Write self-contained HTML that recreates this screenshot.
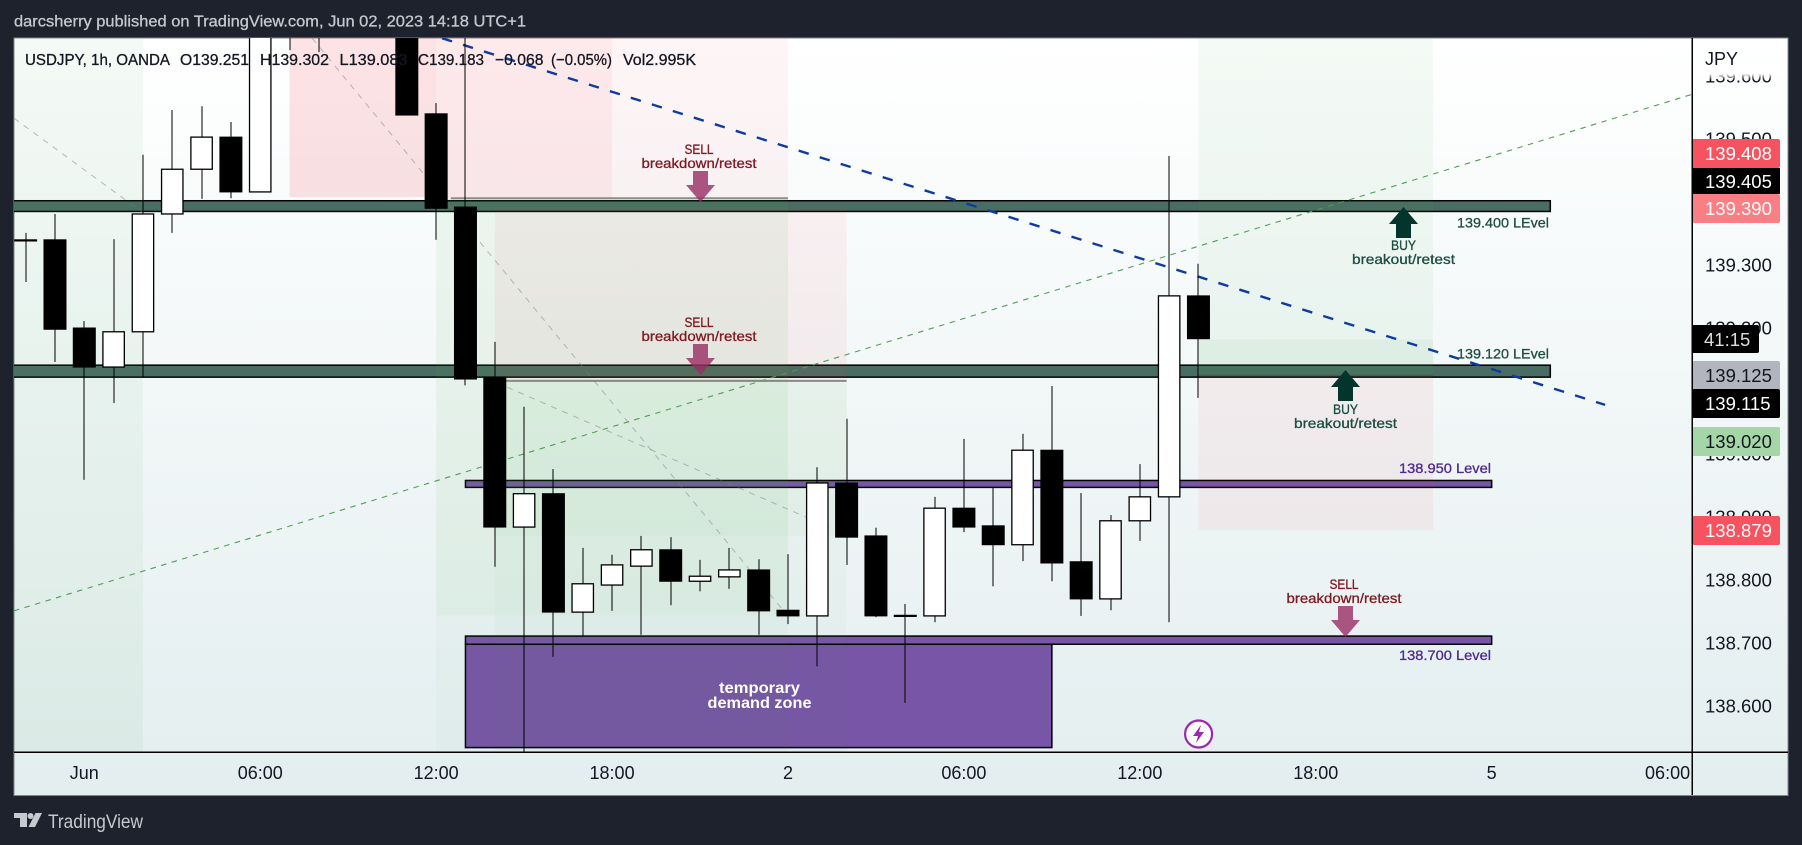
<!DOCTYPE html>
<html lang="en">
<head>
<meta charset="utf-8">
<title>USDJPY 1h chart</title>
<style>
html,body{margin:0;padding:0;background:#1e222d;}
svg{display:block;font-family:"Liberation Sans",sans-serif;}
.inked{stroke-width:0.3px;}
</style>
</head>
<body>
<svg id="chart" xmlns="http://www.w3.org/2000/svg" width="1802" height="845" viewBox="0 0 1802 845">
  <defs>
    <linearGradient id="bg-grad" x1="0" y1="0" x2="0" y2="1">
      <stop offset="0" stop-color="#ffffff"/>
      <stop offset="1" stop-color="#e3eeef"/>
    </linearGradient>
    <linearGradient id="fade-grad" x1="0" y1="0" x2="0" y2="1">
      <stop offset="0" stop-color="#ffffff" stop-opacity="1"/>
      <stop offset="0.6" stop-color="#ffffff" stop-opacity="1"/>
      <stop offset="1" stop-color="#ffffff" stop-opacity="0"/>
    </linearGradient>
    <clipPath id="plot-clip"><rect x="14" y="38" width="1678" height="714"/></clipPath>
  </defs>

  <rect x="0" y="0" width="1802" height="845" fill="#1e222d"/>
  <text x="14" y="26.5" font-size="16" fill="#c5c8cf" stroke="#c5c8cf" class="inked" textLength="512" lengthAdjust="spacingAndGlyphs">darcsherry published on TradingView.com, Jun 02, 2023 14:18 UTC+1</text>
  <rect x="14" y="38" width="1774" height="757.5" fill="url(#bg-grad)" stroke="#83868c" stroke-width="1"/>

  <g id="plot-drawings" clip-path="url(#plot-clip)"></g>

  <g>
    <g fill="#801922" stroke="#801922">
      <text class="inked" x="699" y="154" font-size="14" text-anchor="middle" textLength="29" lengthAdjust="spacingAndGlyphs">SELL</text>
      <text class="inked" x="699" y="168" font-size="14" text-anchor="middle" textLength="115" lengthAdjust="spacingAndGlyphs">breakdown/retest</text>
      <polygon points="693,171 708,171 708,185 715,185 700.5,202 686,185 693,185" fill="#992c64" fill-opacity="0.8" stroke="none"/>
    </g>
    <g fill="#801922" stroke="#801922">
      <text class="inked" x="699" y="327" font-size="14" text-anchor="middle" textLength="29" lengthAdjust="spacingAndGlyphs">SELL</text>
      <text class="inked" x="699" y="341" font-size="14" text-anchor="middle" textLength="115" lengthAdjust="spacingAndGlyphs">breakdown/retest</text>
      <polygon points="693,344 708,344 708,358 715,358 700.5,375 686,358 693,358" fill="#992c64" fill-opacity="0.8" stroke="none"/>
    </g>
    <g fill="#801922" stroke="#801922">
      <text class="inked" x="1344" y="589" font-size="14" text-anchor="middle" textLength="29" lengthAdjust="spacingAndGlyphs">SELL</text>
      <text class="inked" x="1344" y="603" font-size="14" text-anchor="middle" textLength="115" lengthAdjust="spacingAndGlyphs">breakdown/retest</text>
      <polygon points="1338,606 1353,606 1353,620 1360,620 1345.5,637 1331,620 1338,620" fill="#992c64" fill-opacity="0.8" stroke="none"/>
    </g>
    <g fill="#1d4d42" stroke="#1d4d42">
      <polygon points="1396,238 1411,238 1411,224 1418,224 1403.5,207 1389,224 1396,224" fill="#04352c" stroke="none"/>
      <text class="inked" x="1403.5" y="250" font-size="14" text-anchor="middle" textLength="25" lengthAdjust="spacingAndGlyphs">BUY</text>
      <text class="inked" x="1403.5" y="264" font-size="14" text-anchor="middle" textLength="103" lengthAdjust="spacingAndGlyphs">breakout/retest</text>
    </g>
    <g fill="#1d4d42" stroke="#1d4d42">
      <polygon points="1338,401 1353,401 1353,387 1360,387 1345.5,370 1331,387 1338,387" fill="#04352c" stroke="none"/>
      <text class="inked" x="1345.5" y="414" font-size="14" text-anchor="middle" textLength="25" lengthAdjust="spacingAndGlyphs">BUY</text>
      <text class="inked" x="1345.5" y="428" font-size="14" text-anchor="middle" textLength="103" lengthAdjust="spacingAndGlyphs">breakout/retest</text>
    </g>
    <text class="inked" x="1549" y="227.5" font-size="14" text-anchor="end" fill="#1f4d3f" stroke="#1f4d3f" textLength="92" lengthAdjust="spacingAndGlyphs">139.400 LEvel</text>
    <text class="inked" x="1549" y="358.5" font-size="14" text-anchor="end" fill="#1f4d3f" stroke="#1f4d3f" textLength="92" lengthAdjust="spacingAndGlyphs">139.120 LEvel</text>
    <text class="inked" x="1491" y="473" font-size="14" text-anchor="end" fill="#4f2a8f" stroke="#4f2a8f" textLength="92" lengthAdjust="spacingAndGlyphs">138.950 Level</text>
    <text class="inked" x="1491" y="660" font-size="14" text-anchor="end" fill="#4f2a8f" stroke="#4f2a8f" textLength="92" lengthAdjust="spacingAndGlyphs">138.700 Level</text>
    <text x="759.5" y="693" font-size="15.5" font-weight="bold" text-anchor="middle" fill="#ffffff" textLength="81" lengthAdjust="spacingAndGlyphs">temporary</text>
    <text x="759.5" y="708" font-size="15.5" font-weight="bold" text-anchor="middle" fill="#ffffff" textLength="104" lengthAdjust="spacingAndGlyphs">demand zone</text>
    <g>
      <circle cx="1198.6" cy="734" r="13.5" fill="#ffffff" stroke="#9c27b0" stroke-width="2.2"/>
      <polygon points="1201,725 1193,736 1198,736 1196,743 1204,732 1199,732" fill="#9c27b0"/>
    </g>
  </g>

  <g id="candles" clip-path="url(#plot-clip)"></g>

  <g font-size="16" fill="#131722" stroke="#131722">
    <text class="inked" x="25" y="65" textLength="145" lengthAdjust="spacingAndGlyphs">USDJPY, 1h, OANDA</text>
    <text class="inked" x="180" y="65" textLength="69" lengthAdjust="spacingAndGlyphs">O139.251</text>
    <text class="inked" x="260" y="65" textLength="69" lengthAdjust="spacingAndGlyphs">H139.302</text>
    <text class="inked" x="339.5" y="65" textLength="68" lengthAdjust="spacingAndGlyphs">L139.083</text>
    <text class="inked" x="418" y="65" textLength="66" lengthAdjust="spacingAndGlyphs">C139.183</text>
    <text class="inked" x="495" y="65" textLength="48.5" lengthAdjust="spacingAndGlyphs">−0.068</text>
    <text class="inked" x="551" y="65" textLength="61" lengthAdjust="spacingAndGlyphs">(−0.05%)</text>
    <text class="inked" x="623" y="65" textLength="73" lengthAdjust="spacingAndGlyphs">Vol2.995K</text>
  </g>

  <g id="price-axis"></g>
  <rect x="1694" y="64" width="92" height="16" fill="url(#fade-grad)"/>
  <text x="1705" y="65" font-size="18" fill="#131722">JPY</text>

  <g font-size="18.5" fill="#ffffff">
    <g><rect x="1692" y="139" width="88" height="29" rx="2" fill="#f7525f"/><text x="1705" y="160">139.408</text></g>
    <g><rect x="1692" y="194" width="88" height="29" rx="2" fill="#fa7f85"/><text x="1705" y="215">139.390</text></g>
    <g><rect x="1692" y="168" width="88" height="26" fill="#000000"/><text x="1705" y="188">139.405</text></g>
    <g><rect x="1692" y="325" width="67" height="28" rx="2" fill="#000000"/><text x="1704" y="346" fill="#dddddd">41:15</text></g>
    <g><rect x="1692" y="361" width="88" height="29" rx="2" fill="#b2b5be"/><text x="1705" y="382" fill="#131722">139.125</text></g>
    <g><rect x="1692" y="389" width="88" height="29" rx="2" fill="#000000"/><text x="1705" y="410">139.115</text></g>
    <g><rect x="1692" y="427" width="88" height="29" rx="2" fill="#a5d6a7"/><text x="1705" y="448" fill="#131722">139.020</text></g>
    <g><rect x="1692" y="516" width="88" height="29" rx="2" fill="#f7525f"/><text x="1705" y="537">138.879</text></g>
  </g>

  <g id="time-axis"></g>

  <rect x="1691.5" y="38" width="1.5" height="757" fill="#000000"/>
  <rect x="14" y="751.5" width="1774" height="1.5" fill="#000000"/>

  <g fill="#c7c9d0">
    <polygon points="14,813 27,813 27,827 20,827 20,818 14,818"/>
    <circle cx="30.5" cy="816" r="3"/>
    <polygon points="35.5,813 42,813 35,827 28.5,827"/>
    <text x="48" y="828" font-size="19" textLength="95" lengthAdjust="spacingAndGlyphs">TradingView</text>
  </g>
</svg>

<script>
// Candle data: hours since Jun 1 00:00 (bar index)
const barHours = [-2,-1,0,1,2,3,4,5,6,7,8,9,10,11,12,13,14,15,16,17,18,19,20,21,22,23,24,25,26,27,28,29,30,31,32,33,34,35,36,37,38];
const opens  = [139.340,139.340,139.200,139.138,139.194,139.381,139.452,139.503,139.416,139.800,139.850,139.850,139.850,139.800,139.540,139.392,139.122,138.884,138.937,138.749,138.792,138.822,138.848,138.798,138.805,138.816,138.752,138.743,138.954,138.870,138.744,138.743,138.914,138.886,138.856,139.006,138.829,138.770,138.894,138.932,139.251];
const highs  = [139.351,139.381,139.211,139.341,139.475,139.546,139.552,139.527,139.900,139.950,139.950,139.950,139.950,139.900,139.557,139.800,139.178,139.075,138.976,138.851,138.840,138.870,138.868,138.832,138.851,138.833,138.841,138.979,139.056,138.883,138.762,138.932,139.024,138.946,139.032,139.108,138.938,138.903,138.984,139.473,139.302];
const lows   = [139.273,139.146,138.959,139.081,139.122,139.351,139.405,139.406,139.416,139.641,139.638,139.720,139.720,139.538,139.340,139.109,138.821,138.527,138.678,138.711,138.751,138.713,138.760,138.782,138.786,138.713,138.730,138.663,138.824,138.741,138.605,138.733,138.876,138.790,138.830,138.798,138.743,138.752,138.862,138.733,139.089];
const closes = [139.340,139.198,139.138,139.194,139.381,139.452,139.503,139.416,139.800,139.900,139.900,139.900,139.900,139.538,139.390,139.119,138.884,138.937,138.749,138.794,138.824,138.848,138.798,138.806,138.816,138.751,138.743,138.954,138.868,138.743,138.743,138.914,138.884,138.856,139.006,138.827,138.770,138.894,138.932,139.251,139.183];

// Axis labels
const priceTicks = ["138.600","138.700","138.800","138.900","139.000","139.100","139.200","139.300","139.400","139.500","139.600"];
const timeTickHours = [0,6,12,18,24,30,36,42,48,54];
const timeTickLabels = ["Jun","06:00","12:00","18:00","2","06:00","12:00","18:00","5","06:00"];

// Shaded position-tool zones (hours, prices)
const zoneStartHours = [-3,7,12,18,12,12,14,14,14,38,38,38];
const zoneEndHours   = [2,12,18,24,24,24,26,26,26,46,46,46];
const zoneTopPrices  = [139.8,139.8,139.8,139.8,139.408,138.744,139.390,139.115,138.870,139.8,139.182,139.125];
const zoneLowPrices  = [138.5,139.408,139.408,139.408,138.744,138.5,139.115,138.870,138.5,139.125,139.125,138.879];
const zoneKinds      = ["buyLight","sellStrong","sellMid","sellLight","buy","buyFaint","sell","buy","buyFaint","buyLight","buyLight","sell"];

// Horizontal level bands (hours, prices)
const bandStartHours = [-3,-3,13,13,13];
const bandEndHours   = [50,50,48,48,33];
const bandTopPrices  = [139.402,139.141,138.958,138.711,138.698];
const bandLowPrices  = [139.385,139.122,138.947,138.698,138.534];
const bandKinds      = ["green","green","purple","purple","purple"];

// Trend lines (hours, prices)
const trendStartHours  = [12.2,-2.4,-2.4,7.77,14.42];
const trendStartPrices = [139.660,138.751,139.533,139.660,139.106];
const trendEndHours    = [51.87,54.84,2,23.83,25.4];
const trendEndPrices   = [139.078,139.571,139.383,138.752,138.884];
const trendKinds       = ["blue","green","gray","gray","gray"];

// Thin target/stop edges of the position tools (hours, prices)
const edgeStartHours = [12.5,14,38];
const edgeEndHours   = [24,26,46];
const edgePrices     = [139.406,139.116,139.125];

function xScale(h){ return 84.3 + 29.32 * h; }
function yScale(p){ return 643 - (p - 138.7) * 630; }

const NS = "http://www.w3.org/2000/svg";
const zoneFill = {
  buy:"rgba(76,175,80,0.08)", buyFaint:"rgba(76,175,80,0.03)", buyLight:"rgba(76,175,80,0.06)",
  sellStrong:"rgba(242,54,69,0.14)", sellMid:"rgba(242,54,69,0.11)", sellLight:"rgba(242,54,69,0.05)", sell:"rgba(242,54,69,0.06)"
};
const bandFill = { green:"#4a6d63", purple:"#7855a6" };
const trendStyle = {
  blue:{stroke:"#0d3ba0", width:2.4, dash:"10.5 11.5"},
  green:{stroke:"#4f9f58", width:1.1, dash:"5.5 5.5"},
  gray:{stroke:"rgba(120,123,134,0.5)", width:1, dash:"6 6"}
};

function make(tag, attrs){
  const el = document.createElementNS(NS, tag);
  for (const k in attrs) el.setAttribute(k, attrs[k]);
  return el;
}

const plot = document.getElementById("plot-drawings");

bandStartHours.forEach(function(h, i){
  const y1 = yScale(bandTopPrices[i]);
  const y2 = yScale(bandLowPrices[i]);
  const el = make("rect", {x:xScale(h), y:y1, width:xScale(bandEndHours[i])-xScale(h), height:y2-y1, fill:bandFill[bandKinds[i]], stroke:"#000000", "stroke-width":1.5});
  
  
  plot.appendChild(el);
});

zoneStartHours.forEach(function(h, i){
  const y1 = yScale(zoneTopPrices[i]);
  const y2 = yScale(zoneLowPrices[i]);
  const el = make("rect", {x:xScale(h), y:y1, width:xScale(zoneEndHours[i])-xScale(h), height:y2-y1, fill:zoneFill[zoneKinds[i]]});
  
  
  plot.appendChild(el);
});

edgeStartHours.forEach(function(h, i){
  const y = yScale(edgePrices[i]);
  const el = make("line", {x1:xScale(h), y1:y, x2:xScale(edgeEndHours[i]), y2:y, stroke:"rgba(70,70,70,0.6)", "stroke-width":i === 2 ? 1 : 2});
  
  
  plot.appendChild(el);
});

trendStartHours.forEach(function(h, i){
  const s = trendStyle[trendKinds[i]];
  const el = make("line", {x1:xScale(h), y1:yScale(trendStartPrices[i]), x2:xScale(trendEndHours[i]), y2:yScale(trendEndPrices[i]), stroke:s.stroke, "stroke-width":s.width, "stroke-dasharray":s.dash});
  
  
  plot.appendChild(el);
});

const candles = document.getElementById("candles");
barHours.forEach(function(h, i){
  const x = xScale(h);
  const up = closes[i] > opens[i];
  const top = yScale(Math.max(opens[i], closes[i]));
  const bottom = yScale(Math.min(opens[i], closes[i]));
  const g = make("g", {});
  
  
  const wick = make("rect", {x:Math.round(x)-0.5, y:yScale(highs[i]), width:1, height:yScale(lows[i])-yScale(highs[i]), fill:"#000000"});
  
  
  g.appendChild(wick);
  const h2 = Math.max(bottom - top, 1.2);
  const body = make("rect", up
    ? {x:x-10.7, y:top, width:21.4, height:h2, fill:"#ffffff", stroke:"#000000", "stroke-width":1.3}
    : {x:x-11.5, y:top-0.5, width:23, height:h2+1, fill:"#000000"});
  
  
  g.appendChild(body);
  candles.appendChild(g);
});

const priceAxis = document.getElementById("price-axis");
priceTicks.forEach(function(t){
  const el = make("text", {x:1705, y:yScale(parseFloat(t))+6.5, "font-size":18.5, fill:"#131722"});
  el.textContent = t;
  
  
  priceAxis.appendChild(el);
});

const timeAxis = document.getElementById("time-axis");
timeTickHours.forEach(function(h, i){
  const el = make("text", {x:xScale(h), y:779, "font-size":18, fill:"#131722", "text-anchor":"middle"});
  el.textContent = timeTickLabels[i];
  
  
  timeAxis.appendChild(el);
});
</script>
</body>
</html>
